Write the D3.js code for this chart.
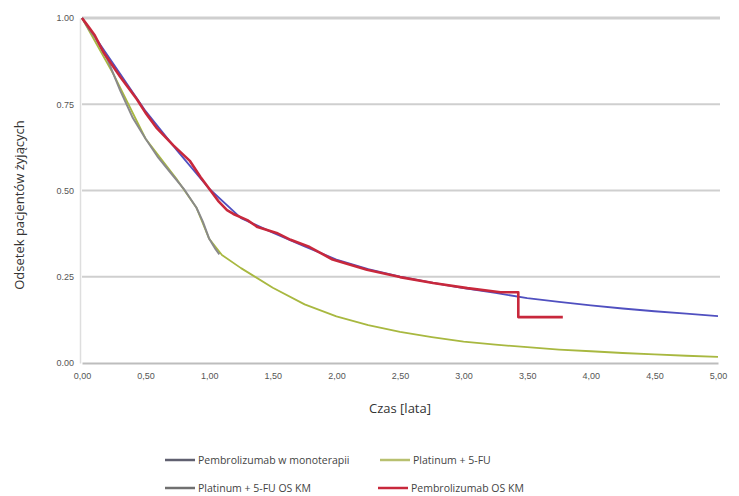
<!DOCTYPE html>
<html><head><meta charset="utf-8">
<script src="https://cdn.jsdelivr.net/npm/d3@7"></script>
<style>body{margin:0;background:#fff;}svg{display:block;font-family:"Open Sans","Liberation Sans",sans-serif;}</style>
</head><body>
<svg id="c" width="739" height="496"></svg>
<script>
// Data
const xTicks = [0,0.5,1,1.5,2,2.5,3,3.5,4,4.5,5];
const xTickLabels = ["0,00","0,50","1,00","1,50","2,00","2,50","3,00","3,50","4,00","4,50","5,00"];
const yTicks = [0,0.25,0.5,0.75,1];
const yTickLabels = ["0.00","0.25","0.50","0.75","1.00"];
const seriesNames = ["Pembrolizumab w monoterapii","Platinum + 5-FU","Platinum + 5-FU OS KM","Pembrolizumab OS KM"];

// Pembrolizumab monotherapy (parametric)
const pembroT = [0,0.25,0.5,0.75,1.0,1.25,1.5,1.75,2.0,2.25,2.5,2.75,3.0,3.25,3.5,3.75,4.0,4.25,4.5,4.75,5.0];
const pembroS = [1.0,0.865,0.73,0.615,0.505,0.42,0.378,0.338,0.30,0.272,0.25,0.233,0.217,0.203,0.188,0.177,0.167,0.158,0.150,0.143,0.136];
// Platinum + 5-FU (parametric)
const platT = [0,0.25,0.5,0.75,0.9,1.0,1.1,1.25,1.5,1.75,2.0,2.25,2.5,2.75,3.0,3.25,3.5,3.75,4.0,4.25,4.5,4.75,5.0];
const platS = [1.0,0.835,0.65,0.53,0.45,0.36,0.313,0.275,0.218,0.17,0.135,0.11,0.09,0.075,0.062,0.053,0.046,0.039,0.034,0.029,0.025,0.021,0.018];
// Platinum + 5-FU OS KM
const platKmT = [0,0.05,0.1,0.2,0.3,0.4,0.5,0.6,0.7,0.8,0.9,0.95,1.0,1.05,1.08];
const platKmS = [1.0,0.97,0.945,0.88,0.79,0.71,0.65,0.595,0.55,0.505,0.45,0.41,0.36,0.33,0.315];
// Pembrolizumab OS KM
const pembroKmT = [0,0.05,0.1,0.17,0.3,0.43,0.5,0.59,0.72,0.85,0.93,1.0,1.07,1.14,1.19,1.3,1.38,1.53,1.64,1.79,1.97,2.24,2.5,2.76,3.03,3.29,3.43,3.43,3.78];
const pembroKmS = [1.0,0.975,0.95,0.90,0.83,0.765,0.725,0.68,0.63,0.585,0.54,0.505,0.47,0.443,0.432,0.414,0.394,0.377,0.357,0.336,0.30,0.27,0.249,0.232,0.217,0.205,0.205,0.133,0.133];

const colors = ["#5050c0","#a8b840","#8a8a8a","#c8283c"];

const svg = d3.select("#c");
const x = d3.scaleLinear().domain([0,5]).range([82,718]);
const y = d3.scaleLinear().domain([0,1]).range([363,18]);

// gridlines
svg.append("g").selectAll("line").data(yTicks.filter(d=>d>0)).join("line")
  .attr("x1",x(0)).attr("x2",x(5)+2).attr("y1",d=>y(d)).attr("y2",d=>y(d))
  .attr("stroke","#cfcfcf").attr("stroke-width",d=>d===1?3:2);

// axes
const xAxis = d3.axisBottom(x).tickValues(xTicks).tickFormat((d,i)=>xTickLabels[i]).tickSize(0).tickPadding(10);
const gx = svg.append("g").attr("transform",`translate(0,${y(0)})`).call(xAxis);
gx.select(".domain").attr("stroke","#bdbdbd").attr("stroke-width",2);
gx.selectAll("text").attr("fill","#555").style("font-size","9px");

const yAxis = d3.axisLeft(y).tickValues(yTicks).tickFormat((d,i)=>yTickLabels[i]).tickSize(0).tickPadding(6);
const gy = svg.append("g").attr("transform",`translate(${x(0)-2},0)`).call(yAxis);
gy.select(".domain").attr("stroke","#dedede").attr("stroke-width",1.5);
gy.selectAll("text").attr("fill","#555").style("font-size","9px");

// lines
const line = d3.line().x(d=>x(d[0])).y(d=>y(d[1]));
const zip = (a,b)=>a.map((v,i)=>[v,b[i]]);
const drawSeries = [
  {d:zip(platT,platS), c:colors[1], w:1.8},
  {d:zip(pembroT,pembroS), c:colors[0], w:1.8},
  {d:zip(platKmT,platKmS), c:colors[2], w:2},
  {d:zip(pembroKmT,pembroKmS), c:colors[3], w:2.6}
];
svg.append("g").selectAll("path").data(drawSeries).join("path")
  .attr("d",s=>line(s.d)).attr("fill","none").attr("stroke",s=>s.c)
  .attr("stroke-width",s=>s.w).attr("stroke-linejoin","round");

// axis titles
svg.append("text").attr("x",400).attr("y",413).attr("text-anchor","middle")
  .attr("fill","#333").style("font-size","13px").text("Czas [lata]");
svg.append("text").attr("transform","translate(24,205) rotate(-90)").attr("text-anchor","middle")
  .attr("fill","#333").style("font-size","13px").text("Odsetek pacjentów żyjących");

// legend
const legend = [
  {name:seriesNames[0], c:"#606070", x:165, y:460},
  {name:seriesNames[1], c:"#b8c070", x:380, y:460},
  {name:seriesNames[2], c:"#707070", x:165, y:488},
  {name:seriesNames[3], c:colors[3], x:378, y:488}
];
const lg = svg.append("g").selectAll("g").data(legend).join("g")
  .attr("transform",d=>`translate(${d.x},${d.y})`);
lg.append("line").attr("x1",0).attr("x2",30).attr("y1",0).attr("y2",0)
  .attr("stroke",d=>d.c).attr("stroke-width",2.5);
lg.append("text").attr("x",33).attr("y",3.5).attr("fill","#444")
  .style("font-size","10.5px").text(d=>d.name);
</script>
</body></html>
